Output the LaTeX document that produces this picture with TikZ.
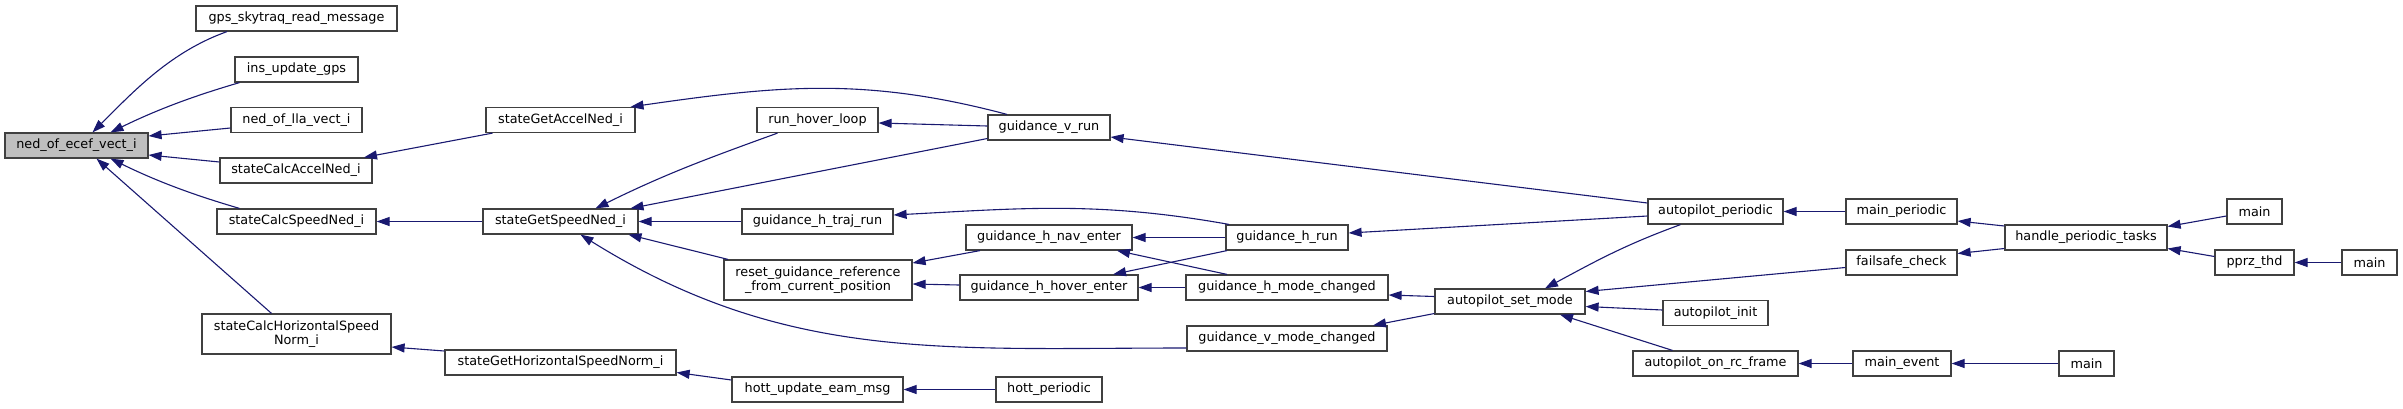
\documentclass[tikz,border=0pt]{standalone}
\usepackage{fontspec}
\setmainfont{DejaVu Sans}
\usetikzlibrary{arrows.meta}
\definecolor{dxEdge}{HTML}{191970}
\definecolor{dxBorder}{HTML}{404040}
\definecolor{dxGray}{HTML}{BFBFBF}

\begin{document}
\begin{tikzpicture}[
  x=1pt, y=-1pt,
  font=\fontsize{12.8}{14.5}\selectfont,
  fn/.style={draw=dxBorder, line width=1.2pt, fill=white, minimum height=25, inner sep=0pt, align=center},
  call/.style={{Triangle[length=13pt,width=9pt]}-, line width=1.1pt, color=dxEdge}
]
\useasboundingbox (0,0) rectangle (2403,408);
% column 0 and 1
\node[fn, fill=dxGray, minimum width=143] (ned) at (76.5,145.5) {ned\_of\_ecef\_vect\_i};
\node[fn, minimum width=201] (gpsRead) at (296.5,18.5) {gps\_skytraq\_read\_message};
\node[fn, minimum width=123] (insGps) at (296.5,69.5) {ins\_update\_gps};
\node[fn, minimum width=131] (nedLla) at (296.5,120) {ned\_of\_lla\_vect\_i};
\node[fn, minimum width=152] (calcAccel) at (296,170.5) {stateCalcAccelNed\_i};
\node[fn, minimum width=159] (calcSpeed) at (296.5,221.5) {stateCalcSpeedNed\_i};
\node[fn, minimum width=189, minimum height=40] (calcHNorm) at (296.5,334) {stateCalcHorizontalSpeed\\Norm\_i};
% column 2
\node[fn, minimum width=149] (getAccel) at (560.5,120) {stateGetAccelNed\_i};
\node[fn, minimum width=155] (getSpeed) at (560.5,221.5) {stateGetSpeedNed\_i};
\node[fn, minimum width=231] (getHNorm) at (560.5,362.5) {stateGetHorizontalSpeedNorm\_i};
% column 3
\node[fn, minimum width=121] (hoverLoop) at (817.5,120) {run\_hover\_loop};
\node[fn, minimum width=151] (hTraj) at (817.5,221.5) {guidance\_h\_traj\_run};
\node[fn, minimum width=188, minimum height=40] (resetRef) at (818,280) {reset\_guidance\_reference\\\_from\_current\_position};
\node[fn, minimum width=171] (hottEam) at (817.5,389.5) {hott\_update\_eam\_msg};
% column 4
\node[fn, minimum width=122] (vRun) at (1049,127.5) {guidance\_v\_run};
\node[fn, minimum width=166] (hNav) at (1049,237.5) {guidance\_h\_nav\_enter};
\node[fn, minimum width=178] (hHover) at (1049,287.5) {guidance\_h\_hover\_enter};
\node[fn, minimum width=106] (hottPer) at (1049,389.5) {hott\_periodic};
% column 5
\node[fn, minimum width=122] (hRun) at (1287,237.5) {guidance\_h\_run};
\node[fn, minimum width=202] (hMode) at (1287,287.5) {guidance\_h\_mode\_changed};
\node[fn, minimum width=200] (vMode) at (1287,338.5) {guidance\_v\_mode\_changed};
% columns 6 and 7
\node[fn, minimum width=150] (apMode) at (1510,301.5) {autopilot\_set\_mode};
\node[fn, minimum width=135] (apPer) at (1715.5,211.5) {autopilot\_periodic};
\node[fn, minimum width=105] (apInit) at (1715.5,313) {autopilot\_init};
\node[fn, minimum width=165] (apRc) at (1715.5,363.5) {autopilot\_on\_rc\_frame};
% columns 8 to 11
\node[fn, minimum width=111] (mainPer) at (1901.5,211.5) {main\_periodic};
\node[fn, minimum width=111] (failsafe) at (1901.5,262.5) {failsafe\_check};
\node[fn, minimum width=98] (mainEvt) at (1902,363.5) {main\_event};
\node[fn, minimum width=162] (periodic) at (2086,237.5) {handle\_periodic\_tasks};
\node[fn, minimum width=55] (mainC) at (2086.5,363.5) {main};
\node[fn, minimum width=55] (mainA) at (2254.5,211.5) {main};
\node[fn, minimum width=79] (pprz) at (2254.5,262.5) {pprz\_thd};
\node[fn, minimum width=55] (mainB) at (2369.5,262.5) {main};
% callers of ned_of_ecef_vect_i
\draw[call] ([xshift=16]ned.north) .. controls +(42,-42) and +(-56,20) .. ([xshift=-69.5]gpsRead.south);
\draw[call] ([xshift=34]ned.north) .. controls +(45,-22) and +(-48,14) .. ([xshift=-57]insGps.south);
\draw[call] ([yshift=9.5]ned.east) -- ([yshift=-8]nedLla.west);
\draw[call] ([yshift=-9.5]ned.east) -- ([yshift=8.5]calcAccel.west);
\draw[call] ([xshift=34]ned.south) .. controls +(45,22) and +(-48,-14) .. ([xshift=-57]calcSpeed.north);
\draw[call] ([xshift=20]ned.south) -- ([xshift=-25]calcHNorm.north);
% state getters
\draw[call] ([xshift=68]calcAccel.north) -- ([xshift=-68]getAccel.south);
\draw[call] (calcSpeed.east) -- (getSpeed.west);
\draw[call] ([yshift=-13]calcHNorm.east) -- ([yshift=11.5]getHNorm.west);
\draw[call] ([xshift=70]getAccel.north) .. controls +(146,-21) and +(-143,-38) .. ([xshift=-42]vRun.north);
\draw[call] ([xshift=35]getSpeed.north) .. controls +(69,-34) and +(-72,26) .. ([xshift=-40]hoverLoop.south);
\draw[call] ([xshift=70]getSpeed.north) -- ([yshift=-11]vRun.west);
\draw[call] (getSpeed.east) -- (hTraj.west);
\draw[call] ([xshift=68]getSpeed.south) -- ([xshift=-90]resetRef.north);
\draw[call] ([xshift=20]getSpeed.south) .. controls +(205,128) and +(-242,0) .. ([yshift=-9.5]vMode.west);
\draw[call] ([yshift=-10]getHNorm.east) -- ([yshift=9.5]hottEam.west);
\draw[call] (hottEam.east) -- (hottPer.west);
% guidance
\draw[call] ([yshift=-3]hoverLoop.east) -- ([yshift=1.5]vRun.west);
\draw[call] ([yshift=6.5]hTraj.east) .. controls +(131,-7) and +(-129,-23) .. ([xshift=-58]hRun.north);
\draw[call] ([yshift=17]resetRef.east) -- ([xshift=-69]hNav.south);
\draw[call] ([yshift=-4]resetRef.east) -- ([yshift=2.5]hHover.west);
\draw[call] (hNav.east) -- (hRun.west);
\draw[call] ([xshift=68]hNav.south) -- ([xshift=-60]hMode.north);
\draw[call] ([xshift=64]hHover.north) -- ([xshift=-60]hRun.south);
\draw[call] (hHover.east) -- (hMode.west);
% autopilot
\draw[call] ([yshift=-9.5]vRun.east) -- ([yshift=8.5]apPer.west);
\draw[call] ([yshift=4.5]hRun.east) -- ([yshift=-4.5]apPer.west);
\draw[call] ([yshift=-7.5]hMode.east) -- ([yshift=5]apMode.west);
\draw[call] ([xshift=86]vMode.north) -- ([yshift=-12]apMode.west);
\draw[call] ([xshift=35]apMode.north) .. controls +(52,-28) and +(-55,20) .. ([xshift=-35]apPer.south);
\draw[call] ([yshift=10]apMode.east) -- ([yshift=-5]failsafe.west);
\draw[call] ([yshift=-5]apMode.east) -- ([yshift=3]apInit.west);
\draw[call] ([xshift=50]apMode.south) -- ([xshift=-43]apRc.north);
% main loops
\draw[call] (apPer.east) -- (mainPer.west);
\draw[call] ([yshift=-9.5]mainPer.east) -- ([yshift=11.5]periodic.west);
\draw[call] ([yshift=9]failsafe.east) -- ([yshift=-11]periodic.west);
\draw[call] (apRc.east) -- (mainEvt.west);
\draw[call] (mainEvt.east) -- (mainC.west);
\draw[call] ([yshift=11]periodic.east) -- ([yshift=-4.5]mainA.west);
\draw[call] ([yshift=-11]periodic.east) -- ([yshift=6]pprz.west);
\draw[call] (pprz.east) -- (mainB.west);
\end{tikzpicture}
\end{document}
